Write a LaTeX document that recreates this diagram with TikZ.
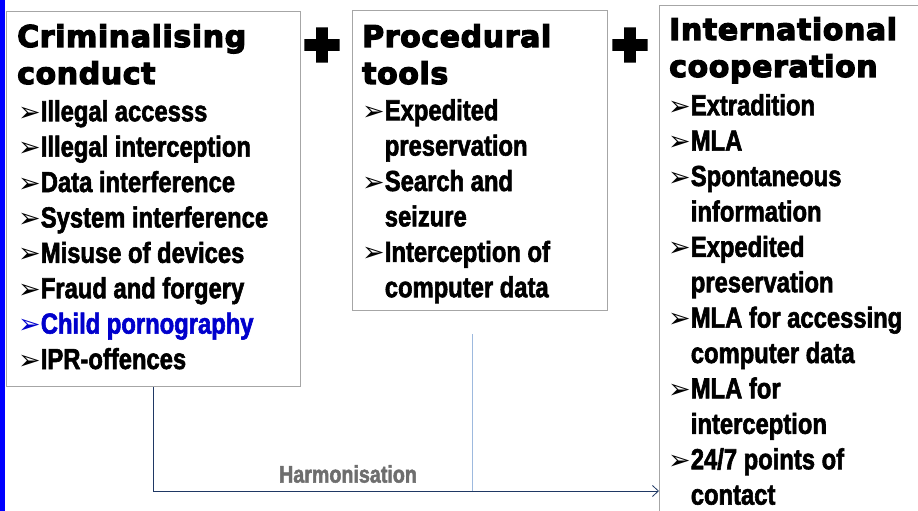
\documentclass[tikz,border=0pt]{standalone}
\usepackage{fontspec}
\setmainfont{Liberation Sans}
\newfontfamily\headfont{DejaVu Sans Bold}[FakeBold=4,LetterSpace=2]
\newfontfamily\plusfont{DejaVu Sans Bold}[FakeBold=14]
\newfontfamily\itemfont{Liberation Sans}[FakeStretch=0.82,BoldFeatures={FakeBold=2}]
\newfontfamily\symfont{DejaVu Sans}
\usetikzlibrary{arrows.meta}
\definecolor{boxgray}{HTML}{A6A6A6}
\definecolor{barblue}{HTML}{0000FF}
\definecolor{childblue}{HTML}{0000CC}
\definecolor{linknavy}{HTML}{1F3864}
\definecolor{linklight}{HTML}{9DB9DE}
\definecolor{harmgray}{HTML}{6E6E6E}
\newcommand\bul{{\symfont\fontsize{27}{27}\selectfont ➢}}
\newcommand\nxt{\hphantom{\bul}}

\begin{document}
\begin{tikzpicture}[x=1pt,y=-1pt,
	box/.style={draw=boxgray, line width=1pt, inner sep=0pt, anchor=north west},
	head/.style={anchor=north west, inner sep=0pt, align=left, font=\headfont\fontsize{30}{37}\selectfont},
	items/.style={anchor=north west, inner sep=0pt, align=left, font=\itemfont\bfseries\fontsize{29}{35.4}\selectfont},
	plus/.style={inner sep=0pt, font=\plusfont\fontsize{46}{46}\selectfont},
	link/.style={draw=linknavy, line width=0.8pt},
	]
	%%%%% START %%%%%
	
	\clip (0,0) rectangle (918,511);
	\fill[barblue] (0,0) rectangle (5,511);
	
	% the three boxes
	\node[box, minimum width=294pt, minimum height=375pt] (crim) at (6,11) {};
	\node[box, minimum width=255pt, minimum height=300pt] (proc) at (352,10) {};
	\node[box, minimum width=300pt, minimum height=560pt] (intl) at (659,5) {};
	
	\node[head] (crimhead) at (17,24) {Criminalising\\conduct};
	\node[items] (crimitems) at (18,100) {\bul Illegal accesss\\
		\bul Illegal interception\\
		\bul Data interference\\
		\bul System interference\\
		\bul Misuse of devices\\
		\bul Fraud and forgery\\
		\textcolor{childblue}{\bul Child pornography}\\
		\bul IPR-offences};
	
	\node[head] (prochead) at (362,24) {Procedural\\tools};
	\node[items] (procitems) at (362,99) {\bul Expedited\\
		\nxt preservation\\
		\bul Search and\\
		\nxt seizure\\
		\bul Interception of\\
		\nxt computer data};
	
	\node[head] (intlhead) at (669,17) {International\\cooperation};
	\node[items] (intlitems) at (668,94) {\bul Extradition\\
		\bul MLA\\
		\bul Spontaneous\\
		\nxt information\\
		\bul Expedited\\
		\nxt preservation\\
		\bul MLA for accessing\\
		\nxt computer data\\
		\bul MLA for\\
		\nxt interception\\
		\bul 24/7 points of\\
		\nxt contact};
	
	\node[plus] (plusa) at (322,45) {+};
	\node[plus] (plusb) at (630,45) {+};
	
	% harmonisation line
	\coordinate (harmend) at (659,491);
	\coordinate (tooltop) at (472,334);
	\draw[link, -{Straight Barb[length=6pt,width=11pt]}] (crim.south) |- (harmend);
	\draw[draw=linklight, line width=0.8pt] (tooltop) -- (tooltop |- harmend);
	\node[text=harmgray, font=\itemfont\bfseries\fontsize{24}{24}\selectfont] (harmlbl) at (348,474) {Harmonisation};
	
	%%%%% END %%%%%
\end{tikzpicture}
\end{document}
